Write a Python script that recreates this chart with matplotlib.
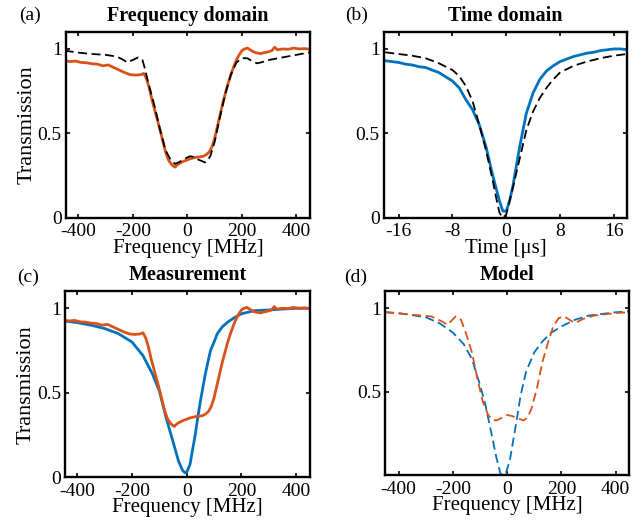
import matplotlib
matplotlib.use("Agg")
import matplotlib.pyplot as plt

plt.rcParams["font.family"] = ["Liberation Serif", "DejaVu Serif"]
plt.rcParams["axes.unicode_minus"] = False

BLUE = "#0072BD"
ORANGE = "#D95319"

# (a)/(c) measured EIT transmission vs frequency (MHz)
meas_f = [-450, -430, -410, -390, -370, -350, -330, -310, -290, -270, -250, -230, -210, -190,
          -170, -160, -150, -140, -130, -120, -110, -100, -90, -80, -70, -60, -50, -45, -40,
          -30, -20, -10, 0, 10, 20, 30, 40, 50, 60, 70, 80, 90, 100, 110, 120, 130, 140, 150,
          160, 170, 180, 190, 200, 210, 220, 230, 240, 250, 260, 270, 280, 290, 300, 310, 320,
          330, 350, 370, 390, 410, 430, 450]
meas_eit = [0.93, 0.925, 0.928, 0.92, 0.918, 0.912, 0.91, 0.90, 0.905, 0.89, 0.875, 0.86, 0.848,
            0.845, 0.848, 0.855, 0.825, 0.77, 0.70, 0.64, 0.58, 0.52, 0.455, 0.39, 0.345, 0.32,
            0.305, 0.30, 0.31, 0.322, 0.33, 0.338, 0.343, 0.35, 0.354, 0.358, 0.36, 0.362, 0.366,
            0.375, 0.39, 0.42, 0.47, 0.54, 0.61, 0.68, 0.74, 0.80, 0.85, 0.895, 0.935, 0.965, 0.99,
            1.0, 1.005, 0.995, 0.985, 0.978, 0.975, 0.972, 0.978, 0.98, 0.985, 0.99, 1.01, 0.995,
            1.0, 0.998, 1.005, 1.0, 1.002, 0.998]

# (a) model EIT
model_f = [-450, -400, -350, -300, -260, -240, -220, -200, -180, -165, -155, -145, -130, -120,
           -100, -80, -60, -45, -30, -10, 10, 25, 40, 55, 65, 75, 85, 100, 120, 140, 160, 180,
           200, 220, 240, 255, 270, 300, 350, 400, 450]
model_eit = [0.99, 0.978, 0.97, 0.965, 0.955, 0.94, 0.92, 0.935, 0.95, 0.935, 0.88, 0.81, 0.72,
             0.66, 0.52, 0.40, 0.34, 0.32, 0.33, 0.35, 0.365, 0.36, 0.345, 0.335, 0.328, 0.34,
             0.37, 0.45, 0.60, 0.74, 0.85, 0.92, 0.945, 0.945, 0.925, 0.915, 0.92, 0.935, 0.95,
             0.965, 0.98]

# (b) time domain (us)
time_t = [-18, -17, -16, -15, -14, -13, -12, -11, -10, -9, -8, -7, -6, -5, -4, -3, -2, -1, -0.5,
          0, 0.5, 1, 2, 3, 4, 5, 6, 7, 8, 9, 10, 11, 12, 13, 14, 15, 16, 17, 18]
time_meas = [0.93, 0.925, 0.92, 0.91, 0.905, 0.895, 0.89, 0.875, 0.86, 0.835, 0.81, 0.77, 0.70,
             0.64, 0.55, 0.42, 0.25, 0.10, 0.04, 0.04, 0.10, 0.19, 0.42, 0.62, 0.74, 0.82, 0.87,
             0.90, 0.925, 0.94, 0.955, 0.965, 0.975, 0.98, 0.99, 0.995, 1.0, 1.0, 0.995]
time_m = [-18, -16, -14, -12, -11, -10, -8, -7, -6, -5, -4, -3, -2, -1.5, -1, -0.5, 0, 0.5, 1, 2,
          3, 4, 5, 6, 7, 8, 10, 12, 14, 16, 18]
time_model = [0.98, 0.97, 0.96, 0.945, 0.93, 0.915, 0.875, 0.84, 0.78, 0.69, 0.55, 0.40, 0.22,
              0.12, 0.03, 0.0, 0.02, 0.10, 0.18, 0.35, 0.52, 0.63, 0.71, 0.77, 0.82, 0.86, 0.90,
              0.925, 0.945, 0.96, 0.97]

# (c) measured two-level absorption vs frequency
abs_f = [-450, -400, -350, -300, -250, -200, -160, -125, -100, -75, -50, -30, -15, -6, 0, 12, 20,
         31, 40, 50, 60, 68, 80, 87, 100, 112, 130, 149, 175, 199, 248, 300, 350, 400, 450]
abs_meas = [0.925, 0.915, 0.90, 0.88, 0.85, 0.80, 0.72, 0.61, 0.51, 0.35, 0.21, 0.095, 0.04,
            0.026, 0.03, 0.075, 0.15, 0.25, 0.35, 0.45, 0.54, 0.61, 0.70, 0.75, 0.80, 0.85, 0.89,
            0.917, 0.945, 0.967, 0.986, 0.99, 0.995, 1.0, 1.0]

# (d) model curves
d_abs_f = [-450, -400, -300, -250, -200, -160, -130, -100, -80, -60, -40, -25, -15, -5, 10, 30,
           50, 70, 100, 130, 160, 200, 250, 300, 400, 450]
d_abs = [0.976, 0.97, 0.945, 0.91, 0.853, 0.784, 0.696, 0.54, 0.42, 0.265, 0.108, 0.01, 0.0,
         0.01, 0.09, 0.28, 0.48, 0.62, 0.735, 0.80, 0.85, 0.89, 0.93, 0.955, 0.975, 0.98]
d_eit_f = [-450, -350, -280, -240, -220, -190, -170, -150, -130, -110, -90, -70, -55, -40, -20,
           0, 20, 40, 60, 75, 90, 110, 130, 150, 170, 190, 210, 230, 250, 280, 320, 400, 450]
d_eit = [0.975, 0.96, 0.95, 0.92, 0.90, 0.95, 0.93, 0.84, 0.735, 0.58, 0.44, 0.36, 0.333, 0.327,
         0.343, 0.36, 0.353, 0.34, 0.327, 0.343, 0.40, 0.52, 0.677, 0.79, 0.89, 0.94, 0.95, 0.93,
         0.91, 0.935, 0.955, 0.97, 0.975]

W, H = 644, 525


def style(ax, xlim, xticks, yticks, xlabel, title, ylabel=None):
    ax.set_xlim(*xlim)
    ax.set_ylim(0, 1.1)
    ax.set_xticks(xticks)
    ax.set_yticks(yticks)
    ax.set_yticklabels([f"{v:g}" for v in yticks])
    ax.tick_params(direction="in", top=True, right=True, labelsize=14, length=3, width=1.2)
    ax.tick_params(axis="x", pad=4)
    ax.tick_params(axis="y", pad=3)
    for s in ax.spines.values():
        s.set_linewidth(1.7)
    ax.set_xlabel(xlabel, fontsize=15, labelpad=-1)
    if ylabel:
        ax.set_ylabel(ylabel, fontsize=16, labelpad=1)
    ax.set_title(title, fontsize=14.5, fontweight="bold", pad=8)


fig = plt.figure(figsize=(6.44, 5.25), dpi=100)
ax_a = fig.add_axes([0.1025, 0.585, 0.379, 0.354])
ax_b = fig.add_axes([0.596, 0.585, 0.378, 0.354])
ax_c = fig.add_axes([0.101, 0.091, 0.380, 0.354])
ax_d = fig.add_axes([0.598, 0.095, 0.379, 0.350])

dash = (0, (5, 2.5))

ax_a.plot(meas_f, meas_eit, color=ORANGE, lw=2.0)
ax_a.plot(model_f, model_eit, color="black", lw=1.3, ls=dash)
style(ax_a, (-445, 450), [-400, -200, 0, 200, 400], [0, 0.5, 1], "Frequency [MHz]",
      "Frequency domain", "Transmission")

ax_b.plot(time_t, time_meas, color=BLUE, lw=2.0)
ax_b.plot(time_m, time_model, color="black", lw=1.3, ls=dash)
style(ax_b, (-18.2, 18), [-16, -8, 0, 8, 16], [0, 0.5, 1], "Time [μs]", "Time domain")

ax_c.plot(abs_f, abs_meas, color=BLUE, lw=2.0)
ax_c.plot(meas_f, meas_eit, color=ORANGE, lw=2.0)
style(ax_c, (-445, 450), [-400, -200, 0, 200, 400], [0, 0.5, 1], "Frequency [MHz]",
      "Measurement", "Transmission")

ax_d.plot(d_abs_f, d_abs, color=BLUE, lw=1.3, ls=dash)
ax_d.plot(d_eit_f, d_eit, color=ORANGE, lw=1.3, ls=dash)
style(ax_d, (-450, 450), [-400, -200, 0, 200, 400], [0.5, 1], "Frequency [MHz]", "Model")

for tag, x, y in [("(a)", 30, 15), ("(b)", 357, 15), ("(c)", 28, 277), ("(d)", 356, 277)]:
    fig.text(x / W, 1 - y / H, tag, fontsize=14, ha="center", va="center")

fig.savefig("out.png", dpi=100)
